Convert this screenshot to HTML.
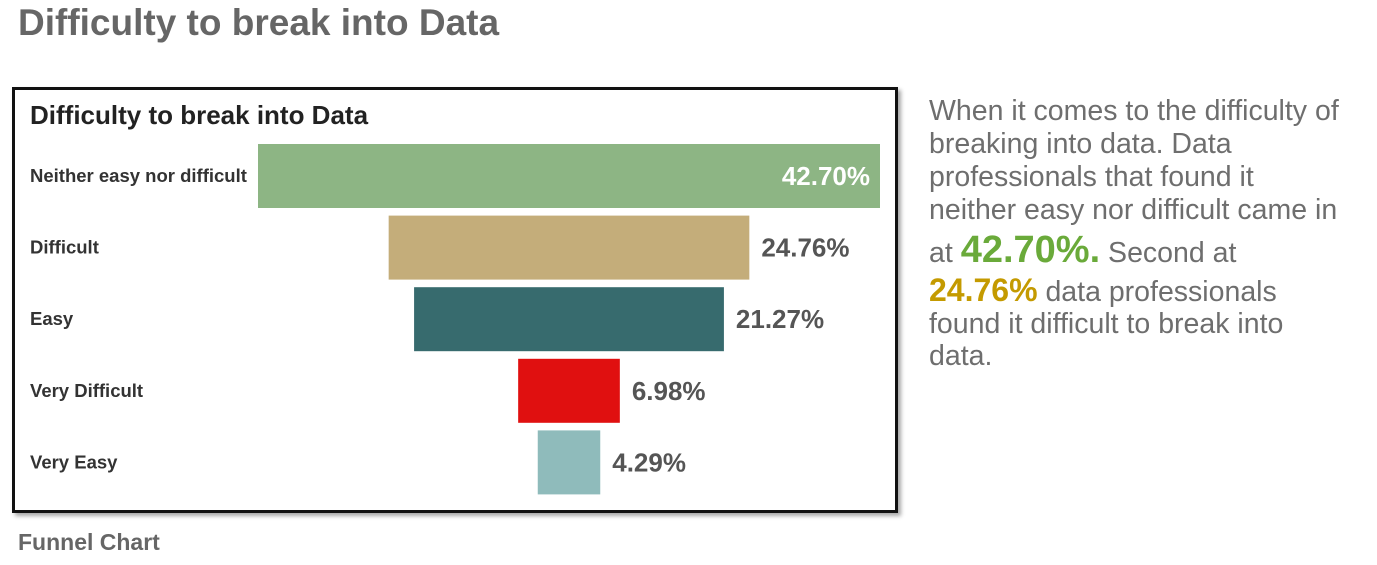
<!DOCTYPE html>
<html><head><meta charset="utf-8">
<style>
body{margin:0;width:1377px;height:565px;background:#fff;font-family:"Liberation Sans",Arial,sans-serif;position:relative;overflow:hidden}
#title{position:absolute;left:18px;top:2px;font-size:37px;font-weight:bold;color:#666}
#box{position:absolute;left:12px;top:87px;width:880px;height:420px;border:3px solid #111;box-shadow:3px 3px 4px rgba(0,0,0,0.35);background:#fff}
#footer{position:absolute;left:18px;top:529px;font-size:23px;font-weight:bold;color:#666}
#desc{position:absolute;left:929px;top:0;width:445px;height:400px;font-size:28.5px;color:#6e6e6e;white-space:nowrap}
#desc div{position:absolute;left:0;height:0;line-height:0}
.g{color:#6aaa3a;font-weight:bold;font-size:38px}
.y{color:#c49a00;font-weight:bold;font-size:32px}
</style></head><body>
<div id="title">Difficulty to break into Data</div>
<div id="box">
<svg id="chart" width="880" height="420"></svg>
</div>
<div id="footer">Funnel Chart</div>
<div id="desc">
<div style="top:111px">When it comes to the difficulty of</div>
<div style="top:144px">breaking into data. Data</div>
<div style="top:177px">professionals that found it</div>
<div style="top:210px">neither easy nor difficult came in</div>
<div style="top:250px">at <span class="g">42.70%.</span> Second at</div>
<div style="top:290px"><span class="y">24.76%</span> data professionals</div>
<div style="top:324px">found it difficult to break into</div>
<div style="top:356px">data.</div>
</div>
<script>
const categories=["Neither easy nor difficult","Difficult","Easy","Very Difficult","Very Easy"];
const values=[42.70,24.76,21.27,6.98,4.29];
const labels=["42.70%","24.76%","21.27%","6.98%","4.29%"];
const colors=["#8db584","#c4ad7a","#376b6e","#e01010","#8fbbbb"];
const NS="http://www.w3.org/2000/svg";
const svg=document.getElementById('chart');
const ox=-15,oy=-90;
const cx=569+ox, maxW=622;
const maxV=Math.max(...values);
const xs=v=>v/maxV*maxW;
const ys=i=>144+oy+i*71.6;
const bh=64;
function mk(t,a){const e=document.createElementNS(NS,t);for(const k in a)e.setAttribute(k,a[k]);svg.appendChild(e);return e;}
const tt=mk('text',{x:30+ox,y:124+oy,'font-size':26,'font-weight':'bold',fill:'#222'});


tt.textContent='Difficulty to break into Data';
values.forEach((v,i)=>{
  const w=xs(v),y=ys(i);
  const r=mk('rect',{x:cx-w/2,y:y,width:w,height:bh,fill:colors[i]});
  
  
  const c=mk('text',{x:30+ox,y:y+bh/2+6,'font-size':18.5,'font-weight':'bold',fill:'#333'});
  
  
  c.textContent=categories[i];
  const inside=(i===0);
  const l=mk('text',{x:inside?cx+w/2-10:cx+w/2+12,y:y+bh/2+9,'font-size':26,'font-weight':'bold',fill:inside?'#fff':'#555','text-anchor':inside?'end':'start'});
  
  
  l.textContent=labels[i];
});
</script>
</body></html>
